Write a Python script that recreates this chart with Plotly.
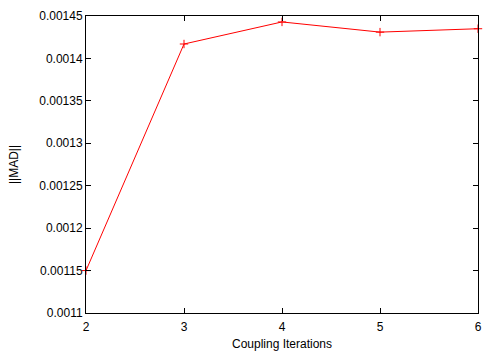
import plotly.graph_objects as go

iterations = [2, 3, 4, 5, 6]
mad_norm = [0.00115, 0.001417, 0.001443, 0.001431, 0.001435]
x_ticks = [2, 3, 4, 5, 6]
y_ticks = [0.0011, 0.00115, 0.0012, 0.00125, 0.0013, 0.00135, 0.0014, 0.00145]
y_tick_labels = ["0.0011", "0.00115", "0.0012", "0.00125", "0.0013", "0.00135", "0.0014", "0.00145"]

fig = go.Figure()
fig.add_trace(go.Scatter(
    x=iterations, y=mad_norm, mode="lines+markers",
    line=dict(color="#ff0000", width=1),
    marker=dict(symbol="cross-thin", size=6, color="#ff0000",
                line=dict(color="#ff0000", width=1)),
    showlegend=False, cliponaxis=False,
))

font = dict(family="Liberation Sans, Arial, sans-serif", size=12, color="#000000")
fig.update_layout(
    width=501, height=351,
    margin=dict(l=86, r=23, t=16, b=38),
    paper_bgcolor="white", plot_bgcolor="white",
    font=font,
    xaxis=dict(
        range=[2, 6], tickvals=x_ticks, ticktext=[str(v) for v in x_ticks],
        showgrid=False, zeroline=False, showline=True, linecolor="black", linewidth=1,
        mirror="allticks", ticks="inside", ticklen=5, tickcolor="black",
        ticklabelstandoff=3, automargin=False,
        title=dict(text="Coupling Iterations", standoff=6, font=font),
    ),
    yaxis=dict(
        range=[0.0011, 0.00145], tickvals=y_ticks, ticktext=y_tick_labels,
        showgrid=False, zeroline=False, showline=True, linecolor="black", linewidth=1,
        mirror="allticks", ticks="inside", ticklen=5, tickcolor="black",
        automargin=False,
        title=dict(text="||MAD||", standoff=18, font=font),
    ),
)

fig.write_html("out.html")
